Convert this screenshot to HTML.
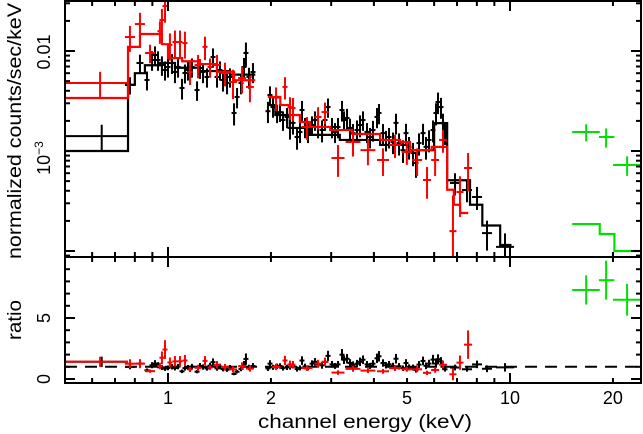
<!DOCTYPE html>
<html><head><meta charset="utf-8"><style>
html,body{margin:0;padding:0;background:#fff;}
svg{display:block;font-family:"Liberation Sans",sans-serif;}
</style></head><body>
<svg id="chart" width="643" height="434" viewBox="0 0 643 434" xmlns="http://www.w3.org/2000/svg">
<defs>
<clipPath id="clipTop"><rect x="65" y="1" width="576" height="256"/></clipPath>
<clipPath id="clipBot"><rect x="65" y="257" width="576" height="126"/></clipPath>
</defs>
<g id="topMarks" clip-path="url(#clipTop)"></g>
<g id="botMarks" clip-path="url(#clipBot)"></g>
<g id="axes"></g>
<text transform="translate(21,131) rotate(-90)" text-anchor="middle" font-size="19" textLength="256" lengthAdjust="spacingAndGlyphs">normalized counts/sec/keV</text>
<text transform="translate(21,320) rotate(-90)" text-anchor="middle" font-size="19" textLength="40" lengthAdjust="spacingAndGlyphs">ratio</text>
<text x="365" y="428" text-anchor="middle" font-size="19" textLength="214" lengthAdjust="spacingAndGlyphs">channel energy (keV)</text>
<text transform="translate(50,52) rotate(-90)" text-anchor="middle" font-size="18">0.01</text>
<text transform="translate(50,158) rotate(-90)" text-anchor="middle" font-size="18">10<tspan font-size="12" dy="-7">−3</tspan></text>
<text transform="translate(50,318) rotate(-90)" text-anchor="middle" font-size="18">5</text>
<text transform="translate(50,379) rotate(-90)" text-anchor="middle" font-size="18">0</text>
</svg>
<script>
// ---- data (counts in units of 1e-3 counts/s/keV) ----
const blackE = [0.64,0.774,0.828,0.868,0.898,0.916,0.935,0.960,0.980,1.0,1.027,1.048,1.070,1.099,1.121,1.144,1.175,1.216,1.240,1.266,1.300,1.327,1.354,1.391,1.419,1.448,1.488,1.518,1.560,1.592,1.635,1.668,1.690,1.725,1.772,
1.96,1.987,2.028,2.084,2.126,2.169,2.228,2.274,2.320,2.384,2.432,2.465,2.515,2.567,2.637,2.691,2.746,2.821,2.878,2.937,3.017,3.078,3.141,3.227,3.271,3.338,3.406,3.475,3.570,3.643,3.717,3.818,3.896,3.975,4.084,4.140,4.253,4.340,4.429,4.550,4.642,4.737,4.866,4.965,5.067,5.205,5.311,5.419,5.568,5.681,5.797,5.955,6.076,6.158,6.284,6.368,6.455,6.906,7.485,8.009,8.566,9.670];
const blackC = [1.41,4.57,7.59,5.13,8.13,9.12,8.13,7.24,6.46,6.92,7.59,6.17,6.92,4.27,6.03,6.46,6.92,4.07,6.76,6.17,5.50,6.92,8.71,5.50,6.46,5.13,4.79,5.50,2.40,3.47,4.79,6.92,9.55,5.50,6.17,
2.50,3.63,2.75,2.40,2.45,2.04,2.19,1.70,1.91,1.38,1.55,2.57,1.74,1.55,1.82,2.04,1.74,1.62,2.04,2.75,1.74,1.55,1.74,2.57,2.04,2.14,1.70,1.51,1.62,1.82,2.04,1.55,1.38,1.62,2.19,2.40,1.51,1.29,1.38,1.23,1.91,1.20,1.02,1.51,1.10,0.955,0.759,1.20,1.51,1.10,1.29,1.62,2.40,3.09,2.75,1.91,1.51,0.479,0.407,0.347,0.151,0.110];
const blackErr = [0.42,0.9,1.6,1.1,1.8,2.0,1.8,1.6,1.4,1.5,1.7,1.4,1.5,1.0,1.3,1.4,1.5,0.9,1.5,1.4,1.2,1.5,1.9,1.2,1.4,1.2,1.1,1.2,0.6,0.8,1.1,1.6,2.6,1.3,1.4,
0.6,0.8,0.6,0.5,0.5,0.45,0.5,0.4,0.45,0.35,0.35,0.6,0.4,0.35,0.4,0.45,0.4,0.4,0.45,0.6,0.4,0.35,0.4,0.6,0.45,0.5,0.4,0.35,0.4,0.45,0.45,0.35,0.32,0.38,0.5,0.55,0.35,0.3,0.32,0.3,0.45,0.3,0.26,0.36,0.28,0.25,0.22,0.3,0.36,0.28,0.32,0.4,0.6,0.75,0.65,0.45,0.36,0.12,0.1,0.09,0.05,0.04];
const blackFirstBin = [0.5,0.764];

const redE = [0.633,0.774,0.828,0.886,0.947,0.960,0.980,1.013,1.048,1.084,1.121,1.160,1.224,1.283,1.327,1.391,1.468,1.549,1.646,1.736,
2.07,2.198,2.274,2.320,2.550,2.746,2.878,3.141,3.475,3.842,4.253,4.610,4.993,5.35,5.72,6.04,6.37,6.81,7.14,7.54];
const redC = [4.79,13.8,18.6,9.55,15.8,20.4,28.2,11.5,12.3,12.3,12.0,6.17,7.24,11.0,6.92,7.24,6.03,4.90,5.37,4.37,
3.42,4.37,2.75,2.69,1.74,2.19,2.45,0.851,1.23,1.02,0.813,1.15,0.977,0.813,0.513,0.813,1.29,0.158,0.389,0.676];
const redErr = [1.4,4.0,5.5,2.0,4.0,6.0,9.0,3.5,3.7,3.7,3.6,1.6,1.9,2.9,1.5,1.9,1.6,1.6,1.6,1.3,
0.9,1.1,0.7,0.7,0.45,0.55,0.6,0.3,0.35,0.3,0.25,0.3,0.25,0.25,0.18,0.25,0.33,0.2,0.17,0.28];
const redFirstBin = [0.5,0.764];

const greenE = [16.7,19.1,22.0];
const greenLo = [15.2,18.2,20.0];
const greenHi = [18.3,20.2,24.2];
const greenC = [1.55,1.38,0.724];
const greenErr = [0.3,0.3,0.16];
const greenRatio = [7.3,8.1,6.5];
const greenRatioErr = [1.2,1.6,1.3];

const blackModelEdges1 = [0.5,0.764,0.80,0.856,0.947,1.048,1.24,1.518,1.80];
const blackModelVals1 = [1.0,4.6,6.0,7.2,7.6,6.8,6.3,5.8];
const blackModelEdges2 = [1.96,2.06,2.27,2.60,3.18,4.17,5.10,6.0,6.55,7.64,8.30,9.36,10.1];
const blackModelVals2 = [2.88,2.29,1.70,1.45,1.29,1.15,1.02,1.9,0.51,0.29,0.18,0.115];
const redModelEdges1 = [0.5,0.764,0.828,0.96,1.0,1.1,1.24,1.39,1.56,1.80];
const redModelVals1 = [3.39,11.0,14.8,11.7,8.5,7.9,7.4,6.2,5.1];
const redModelEdges2 = [1.96,2.13,2.27,2.43,2.6,2.98,3.46,4.17,4.77,5.1,5.9,6.55,6.85,7.15,7.55];
const redModelVals2 = [3.47,2.88,2.29,1.95,1.74,1.62,1.48,1.29,1.23,1.02,1.10,0.41,0.29,0.24];
const greenModelEdges = [15.2,18.3,20.2,24.2];
const greenModelVals = [0.186,0.148,0.10];

const xMajorTicks = [1,10];
const xMinorTicks = [0.6,0.7,0.8,0.9,2,3,4,5,6,7,8,9,20];
const xTickLabels = ['1','2','5','10','20'];
const xTickLabelVals = [1,2,5,10,20];
const ratioTicks = [0,1,2,3,4,5,6,7,8,9,10];

// ---- scales ----
const L = Math.log10;
const X = e => 168 + 342*L(e);
const Yt = c => 151 - 100*L(Math.max(c,1e-6));
const Yr = r => 379 - 12.2*r;
const NS = 'http://www.w3.org/2000/svg';
const topG = document.getElementById('topMarks');
const botG = document.getElementById('botMarks');
const axG = document.getElementById('axes');
function line(g,x1,y1,x2,y2,col,w,dash){
  const l=document.createElementNS(NS,'line');
  l.setAttribute('x1',x1);l.setAttribute('y1',y1);l.setAttribute('x2',x2);l.setAttribute('y2',y2);
  l.setAttribute('stroke',col);l.setAttribute('stroke-width',w||2);
  if(dash) l.setAttribute('stroke-dasharray',dash);
  g.appendChild(l);return l;
}
function modelVal(e,edges,vals){
  for(let i=0;i<vals.length;i++){ if(e>=edges[i]&&e<edges[i+1]) return vals[i]; }
  return null;
}
function allModel(e,segs){ for(const s of segs){const v=modelVal(e,s[0],s[1]); if(v!==null) return v;}
  let best=null,bd=1e9; for(const s of segs){ for(let i=0;i<s[1].length;i++){const m=Math.sqrt(s[0][i]*s[0][i+1]);const d=Math.abs(L(m/e));if(d<bd){bd=d;best=s[1][i];}}} return best; }
function drawStep(g,edges,vals,col,name){
  let d='M'+X(edges[0])+','+Yt(vals[0]);
  for(let i=0;i<vals.length;i++){
    if(i>0) d+=' V'+Yt(vals[i]);
    d+=' H'+X(edges[i+1]);
  }
  const p=document.createElementNS(NS,'path');
  p.setAttribute('d',d);p.setAttribute('fill','none');p.setAttribute('stroke',col);p.setAttribute('stroke-width',2.2);
  
  
  g.appendChild(p);
}
function binEdges(E,i,firstBin){
  if(i===0&&firstBin) return [X(firstBin[0]),X(firstBin[1])];
  const x=X(E[i]);
  const dl = i>0 ? (x-X(E[i-1]))/2 : null;
  const dr = i<E.length-1 ? (X(E[i+1])-x)/2 : null;
  let h = dl===null?dr:(dr===null?dl:Math.min(dl,dr));
  h=Math.max(h,2.5);
  return [x-h,x+h];
}
function drawSeries(E,C,Err,firstBin,col,segs,name){
  for(let i=0;i<E.length;i++){
    const [xa,xb]=binEdges(E,i,firstBin);
    const x=X(E[i]);
    const g=document.createElementNS(NS,'g');
    
    
    topG.appendChild(g);
    line(g,xa,Yt(C[i]),xb,Yt(C[i]),col,2);
    const lo=C[i]-Err[i];
    line(g,x,Yt(C[i]+Err[i]),x,lo>0?Yt(lo):300,col,2);
    const m=allModel(E[i],segs);
    const r=C[i]/m, re=Err[i]/m;
    const g2=document.createElementNS(NS,'g');
    
    
    botG.appendChild(g2);
    line(g2,xa,Yr(r),xb,Yr(r),col,2);
    line(g2,x,Yr(r+re),x,Yr(r-re),col,2);
  }
}
const dl=line(botG,65,Yr(1),641,Yr(1),'#000',2,'12,8');



const blackSegs=[[blackModelEdges1,blackModelVals1],[blackModelEdges2,blackModelVals2]];
const redSegs=[[redModelEdges1,redModelVals1],[redModelEdges2,redModelVals2]];
drawStep(topG,blackModelEdges1,blackModelVals1,'#000','black-model-soft');
drawStep(topG,blackModelEdges2,blackModelVals2,'#000','black-model-hard');
drawSeries(blackE,blackC,blackErr,blackFirstBin,'#000',blackSegs,'black-data');
drawStep(topG,redModelEdges1,redModelVals1,'#f00','red-model-soft');
drawStep(topG,redModelEdges2,redModelVals2,'#f00','red-model-hard');
drawSeries(redE,redC,redErr,redFirstBin,'#f00',redSegs,'red-data');
drawStep(topG,greenModelEdges,greenModelVals,'#00e000','green-model');
for(let i=0;i<greenE.length;i++){
  const g=document.createElementNS(NS,'g');
  
  
  topG.appendChild(g);
  line(g,X(greenLo[i]),Yt(greenC[i]),X(greenHi[i]),Yt(greenC[i]),'#00e000',2);
  line(g,X(greenE[i]),Yt(greenC[i]+greenErr[i]),X(greenE[i]),Yt(greenC[i]-greenErr[i]),'#00e000',2);
  const g2=document.createElementNS(NS,'g');
  
  
  botG.appendChild(g2);
  line(g2,X(greenLo[i]),Yr(greenRatio[i]),X(greenHi[i]),Yr(greenRatio[i]),'#00e000',2);
  line(g2,X(greenE[i]),Yr(greenRatio[i]+greenRatioErr[i]),X(greenE[i]),Yr(greenRatio[i]-greenRatioErr[i]),'#00e000',2);
}

// ---- axes ----
function frame(y1,y2,name){
  const r=document.createElementNS(NS,'rect');
  r.setAttribute('x',65);r.setAttribute('y',y1);r.setAttribute('width',576);r.setAttribute('height',y2-y1);
  r.setAttribute('fill','none');r.setAttribute('stroke','#000');r.setAttribute('stroke-width',2);
  
  
  axG.appendChild(r);
}
frame(1,257,'spectrum-panel-frame');
frame(257,383,'ratio-panel-frame');
[[1,257],[257,383]].forEach(([a,b])=>{
  xMajorTicks.forEach(t=>{line(axG,X(t),a,X(t),a+10,'#000',2);line(axG,X(t),b,X(t),b-10,'#000',2);});
  xMinorTicks.forEach(t=>{line(axG,X(t),a,X(t),a+5,'#000',2);line(axG,X(t),b,X(t),b-5,'#000',2);});
});
for(let dec=0.01;dec<100;dec*=10){
  for(let k=1;k<10;k++){
    const v=dec*k, y=Yt(v);
    if(y<2||y>256) continue;
    const len=k===1?10:5;
    line(axG,65,y,65+len,y,'#000',2);line(axG,641,y,641-len,y,'#000',2);
  }
}
ratioTicks.forEach(t=>{const y=Yr(t); if(y<258) return; const len=t%5===0?10:5;
  line(axG,65,y,65+len,y,'#000',2);line(axG,641,y,641-len,y,'#000',2);});
xTickLabels.forEach((s,i)=>{
  const t=document.createElementNS(NS,'text');
  t.setAttribute('x',X(xTickLabelVals[i]));t.setAttribute('y',404);
  t.setAttribute('text-anchor','middle');t.setAttribute('font-size','18');
  
  
  t.textContent=s;axG.appendChild(t);
});
</script>
</body></html>
